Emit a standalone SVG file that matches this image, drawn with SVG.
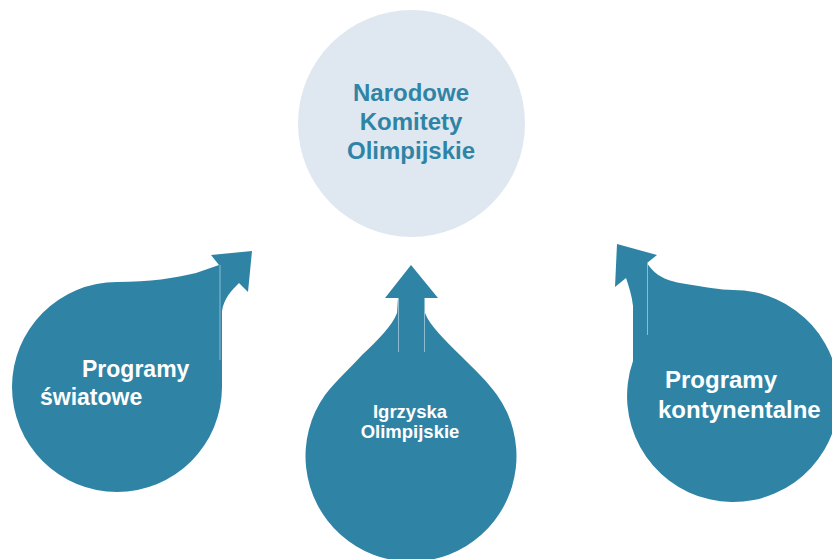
<svg xmlns="http://www.w3.org/2000/svg" width="832" height="559" viewBox="0 0 832 559">
<style>
.drop{fill:#2f84a6;}
.hub{fill:#dfe8f1;}
.rule{stroke:#8dbcd2;stroke-width:1;fill:none;}
.t{font-family:"Liberation Sans",Arial,sans-serif;font-weight:bold;}
.tw{fill:#ffffff;}
.tb{fill:#2f84a6;}
</style>
<rect width="832" height="559" fill="#ffffff"/>
<g id="hub">
<circle class="hub" cx="411.5" cy="123.5" r="113.5"/>
<text class="t tb" font-size="24" text-anchor="middle"><tspan x="411" y="101">Narodowe</tspan><tspan x="411" y="130">Komitety</tspan><tspan x="411" y="159">Olimpijskie</tspan></text>
</g>
<g id="connectors">
<path class="drop" d="M211,255 L252,251 L248,292 L239,283 C232,290 224,298 222,311 L222,387 A105 105 0 1 1 117,282 C150,282 175,278 196,273 L219,265 Z"/>
<path class="drop" d="M411,265 L438,298 L425,298 L425,313 C430,326 445,340 460,355 C475,370 488,382 497,395 A105.5 105.5 0 1 1 325,395 C335,382 350,368 362,355 C378,340 392,326 397,313 L398,298 L385,298 Z"/>
<path class="drop" d="M617,244 L657,255 L647,263 C653,272 660,279 680,283 C705,287 720,290 733,290 A106 106 0 1 1 633,361 L633,306 C632,296 629,287 626,278 L615,287 Z"/>
<line class="rule" x1="220" y1="265" x2="220" y2="360"/>
<line class="rule" x1="398.5" y1="298" x2="398.5" y2="352"/>
<line class="rule" x1="424.5" y1="298" x2="424.5" y2="352"/>
<line class="rule" x1="647.5" y1="263" x2="647.5" y2="335"/>
</g>
<g id="swiatowe">
<text class="t tw" font-size="23"><tspan x="82" y="377">Programy</tspan><tspan x="40" y="405">światowe</tspan></text>
</g>
<g id="igrzyska">
<text class="t tw" font-size="18.5" text-anchor="middle"><tspan x="410" y="418">Igrzyska</tspan><tspan x="410" y="438">Olimpijskie</tspan></text>
</g>
<g id="kontynentalne">
<text class="t tw" font-size="24"><tspan x="665" y="388">Programy</tspan><tspan x="658" y="418">kontynentalne</tspan></text>
</g>
</svg>
